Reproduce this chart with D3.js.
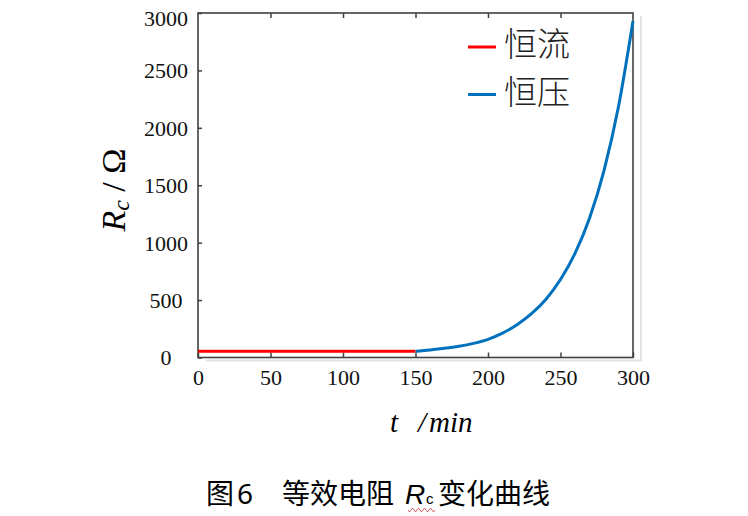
<!DOCTYPE html>
<html>
<head>
<meta charset="utf-8">
<script src="https://cdn.jsdelivr.net/npm/d3@7"></script>
<style>
  html, body { margin: 0; padding: 0; background: #fff; }
  svg { display: block; }
</style>
</head>
<body>
<svg id="chart" width="748" height="516"></svg>
<script>
// ---- data ----
const tCC = [0, 150];                 // 恒流 phase time (min)
const rCC = [55, 55];                 // 恒流 Rc (Ω)
const tCV = [150, 160, 170, 180, 190, 200, 210, 220, 230, 240, 250, 260, 270, 280, 290, 300];
const rCV = [55, 66, 80, 98, 123, 158, 212, 285, 381, 508, 679, 906, 1212, 1628, 2185, 2930];
const xTicks = [0, 50, 100, 150, 200, 250, 300];
const yTicks = [0, 500, 1000, 1500, 2000, 2500, 3000];
const seriesNames = ["恒流", "恒压"];
const seriesColors = ["#ff0000", "#0072bd"];

const svg = d3.select("#chart");
const x = d3.scaleLinear().domain([0, 300]).range([198, 633]);
const y = d3.scaleLinear().domain([0, 3000]).range([357.5, 13]);

const serif = "'Liberation Serif', 'Times New Roman', serif";
const cjkLight = "'Noto Sans CJK SC', sans-serif";

// shadow of frame
svg.append("path")
  .attr("d", `M${x(300) + 8},${y(3000) + 3} V${y(0) + 3} H${x(0) + 8}`)
  .attr("fill", "none").attr("stroke", "#e2e2e2").attr("stroke-width", 2);

// frame
svg.append("rect")
  .attr("x", x(0)).attr("y", y(3000))
  .attr("width", x(300) - x(0)).attr("height", y(0) - y(3000))
  .attr("fill", "none").attr("stroke", "#404040").attr("stroke-width", 1.6);

// x axis (bottom, inward ticks)
const gx = svg.append("g").attr("transform", `translate(0,${y(0)})`)
  .call(d3.axisBottom(x).tickValues(xTicks).tickFormat(d3.format("d"))
    .tickSizeInner(-5).tickSizeOuter(0).tickPadding(12));
gx.attr("font-family", null).attr("font-size", null);
gx.select(".domain").remove();
gx.selectAll(".tick line").attr("stroke", "#404040").attr("stroke-width", 1.5);
gx.selectAll(".tick text").style("font-family", serif).style("font-size", "22px")
  .attr("fill", "#111").attr("dy", "0.71em");

// x axis top ticks
const gxt = svg.append("g").attr("transform", `translate(0,${y(3000)})`)
  .call(d3.axisTop(x).tickValues(xTicks.slice(1, -1)).tickSizeInner(-5).tickSizeOuter(0).tickFormat(""));
gxt.select(".domain").remove();
gxt.selectAll(".tick line").attr("stroke", "#404040").attr("stroke-width", 1.5);

// y axis (left, inward ticks)
const gy = svg.append("g").attr("transform", `translate(${x(0)},0)`)
  .call(d3.axisLeft(y).tickValues(yTicks).tickFormat(d3.format("d"))
    .tickSizeInner(-4).tickSizeOuter(0).tickPadding(0));
gy.attr("font-family", null).attr("font-size", null);
gy.select(".domain").remove();
gy.selectAll(".tick line").attr("stroke", "#404040").attr("stroke-width", 1.5);
gy.selectAll(".tick text").style("font-family", serif).style("font-size", "22px")
  .attr("fill", "#111").attr("text-anchor", "middle").attr("x", -32)
  .attr("dy", d => d === 3000 ? "0.55em" : "0.34em");

// lines
const line = d3.line().x(d => x(d[0])).y(d => y(d[1])).curve(d3.curveMonotoneX);
svg.append("path").datum(d3.zip(tCC, rCC)).attr("d", line)
  .attr("fill", "none").attr("stroke", seriesColors[0]).attr("stroke-width", 3);
svg.append("path").datum(d3.zip(tCV, rCV)).attr("d", line)
  .attr("fill", "none").attr("stroke", seriesColors[1]).attr("stroke-width", 3);

// legend
const leg = svg.append("g");
seriesNames.forEach((name, i) => {
  const ly = 47 + i * 47.5;
  leg.append("line").attr("x1", 468).attr("x2", 496).attr("y1", ly).attr("y2", ly)
    .attr("stroke", seriesColors[i]).attr("stroke-width", 3);
  leg.append("text").attr("x", 504).attr("y", ly + 9)
    .attr("font-family", cjkLight).attr("font-weight", 300).attr("font-size", 33)
    .attr("fill", "#222").text(name);
});

// y label: R_c / Ω
const yl = svg.append("text").attr("transform", "translate(125,190) rotate(-90)")
  .attr("text-anchor", "middle").attr("font-family", serif).attr("font-size", 34).attr("fill", "#000");
yl.append("tspan").attr("font-style", "italic").text("R");
yl.append("tspan").attr("font-style", "italic").attr("font-size", 24).attr("dy", 4).text("c");
yl.append("tspan").attr("dy", -4).text(" / Ω");

// x label: t /min
const xl = svg.append("text").attr("y", 432).attr("font-family", serif)
  .attr("font-size", 29).attr("font-style", "italic").attr("fill", "#000");
xl.append("tspan").attr("x", 390).text("t");
xl.append("tspan").attr("x", 418).text("/");
xl.append("tspan").attr("x", 429).text("min");

// caption
const cap = svg.append("text").attr("y", 504).attr("font-family", "'Noto Sans CJK SC', sans-serif")
  .attr("font-size", 28).attr("fill", "#000");
cap.append("tspan").attr("x", 206).text("图");
cap.append("tspan").attr("x", 237).attr("font-family", "'Noto Sans', sans-serif").text("6");
cap.append("tspan").attr("x", 282).text("等效电阻");
cap.append("tspan").attr("x", 405).attr("font-family", "'Liberation Sans', sans-serif").attr("font-style", "italic").text("R");
cap.append("tspan").attr("x", 426).attr("font-family", "'Liberation Sans', sans-serif").attr("font-size", 15).text("c");
cap.append("tspan").attr("x", 438).text("变化曲线");

// spell-check squiggle under subscript
let sq = "M408,510";
for (let i = 0; i < 9; i++) sq += ` l1.5,${i % 2 ? -2 : 2} l1.5,${i % 2 ? 2 : -2}`;
svg.append("path").attr("d", sq).attr("fill", "none").attr("stroke", "#d04040").attr("stroke-width", 0.8);
</script>
</body>
</html>
